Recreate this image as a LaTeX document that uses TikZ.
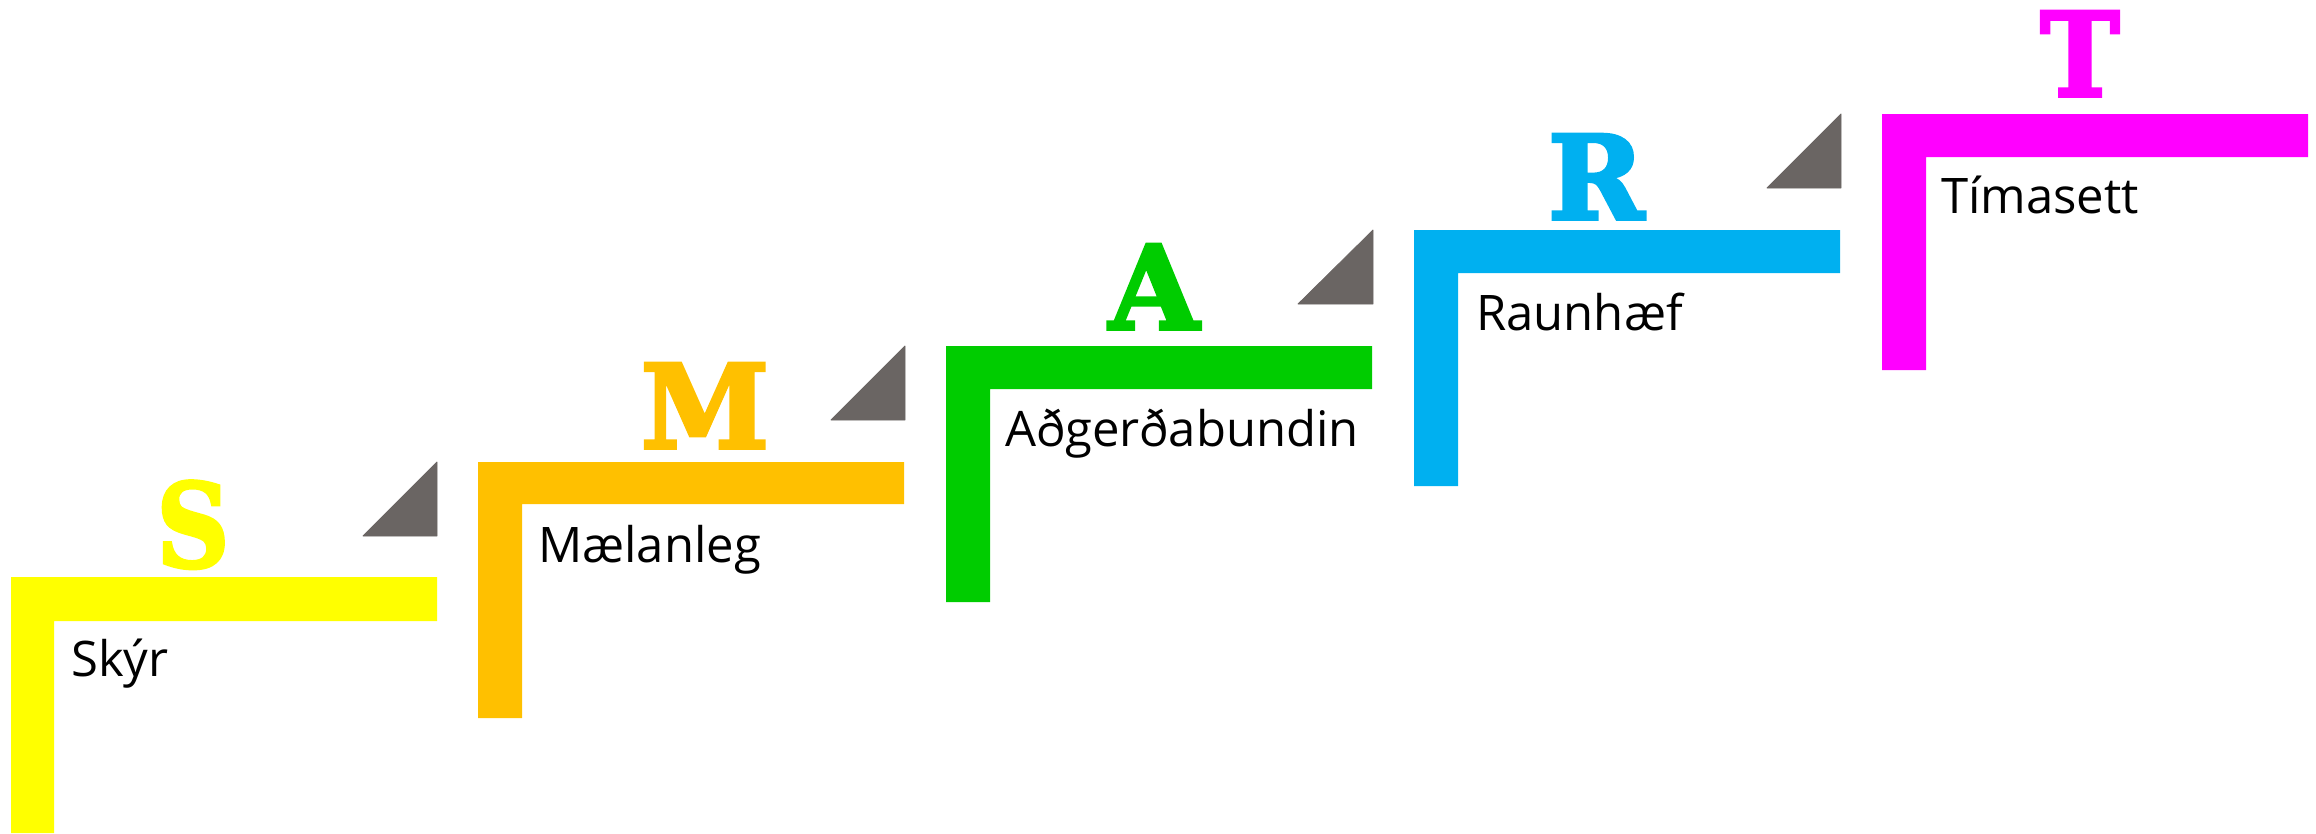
\documentclass[tikz,border=0pt]{standalone}
\usepackage{fontspec}
\setmainfont{Open Sans}
\newfontfamily\bigletter[BoldFeatures={FakeBold=3}]{DejaVu Serif}
\definecolor{cY}{HTML}{FFFF00}
\definecolor{cO}{HTML}{FFC000}
\definecolor{cG}{HTML}{00CC00}
\definecolor{cB}{HTML}{00B0F0}
\definecolor{cM}{HTML}{FF00FF}
\definecolor{cGray}{HTML}{6A6563}
\tikzset{
  tri/.style={fill=cGray, draw=cGray, line width=0.8pt, line join=round},
  letter/.style={anchor=base, inner sep=0pt, font=\bigletter\bfseries\fontsize{116}{120}\selectfont},
  lbl/.style={anchor=base west, inner sep=0pt, text=black, font=\fontsize{49}{58}\selectfont}
}
\begin{document}
\begin{tikzpicture}[x=1pt,y=-1pt]
\useasboundingbox (0,0) rectangle (2316,833);
% Yellow S
\fill[cY] (11,577) -- (437,577) -- (437,621) -- (54,621) -- (54,833) -- (11,833) -- cycle;
\draw[tri] (437,462) -- (437,536) -- (363,536) -- cycle;
\node[letter, text=cY, xscale=0.87] (S) at (193,567) {S};
\node[lbl] (s) at (71,676) {Skýr};
% Orange M
\fill[cO] (478,462) -- (904,462) -- (904,504) -- (522,504) -- (522,718) -- (478,718) -- cycle;
\draw[tri] (905,346) -- (905,420) -- (831,420) -- cycle;
\node[letter, text=cO] (M) at (705,448) {M};
\node[lbl] (m) at (538,562) {Mælanleg};
% Green A
\fill[cG] (946,346) -- (1372,346) -- (1372,389) -- (990,389) -- (990,602) -- (946,602) -- cycle;
\draw[tri] (1373,230) -- (1373,304) -- (1298,304) -- cycle;
\node[letter, text=cG] (A) at (1154,329) {A};
\node[lbl] (a) at (1005,446) {Aðgerðabundin};
% Blue R
\fill[cB] (1414,230) -- (1840,230) -- (1840,273) -- (1458,273) -- (1458,486) -- (1414,486) -- cycle;
\draw[tri] (1841,114) -- (1841,188) -- (1767,188) -- cycle;
\node[letter, text=cB] (R) at (1596,219) {R};
\node[lbl] (r) at (1476,330) {Raunhæf};
% Magenta T
\fill[cM] (1882,114) -- (2308,114) -- (2308,157) -- (1926,157) -- (1926,370) -- (1882,370) -- cycle;
\node[letter, text=cM, xscale=0.92] (T) at (2080,96) {T};
\node[lbl] (t) at (1941,213) {Tímasett};
\end{tikzpicture}
\end{document}
